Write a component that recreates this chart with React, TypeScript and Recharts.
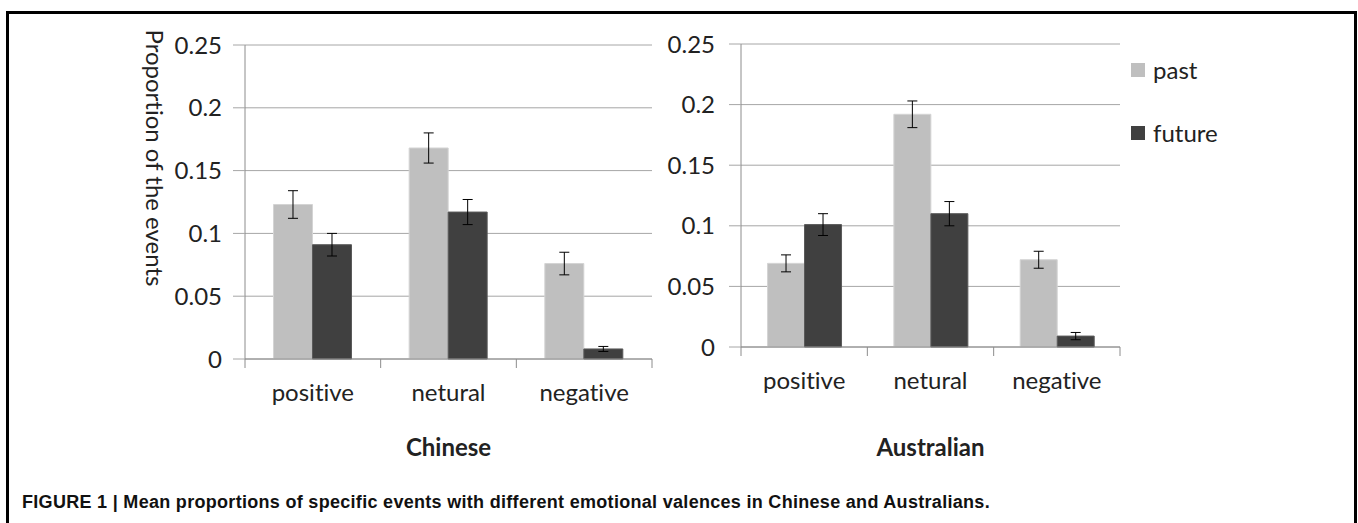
import React from "react"
import { Bar, BarChart, CartesianGrid, ErrorBar, Label, Legend, XAxis, YAxis } from "recharts"

const valences = ["positive", "netural", "negative"]
const seriesNames = ["past", "future"]

const chinesePast = [0.123, 0.168, 0.076]
const chinesePastErr = [0.011, 0.012, 0.009]
const chineseFuture = [0.091, 0.117, 0.008]
const chineseFutureErr = [0.009, 0.01, 0.002]

const australianPast = [0.069, 0.192, 0.072]
const australianPastErr = [0.007, 0.011, 0.007]
const australianFuture = [0.101, 0.11, 0.009]
const australianFutureErr = [0.009, 0.01, 0.003]

const yTicks = [0, 0.05, 0.1, 0.15, 0.2, 0.25]

const PAST = "#bfbfbf"
const FUTURE = "#404040"
const GRID = "#a6a6a6"
const AXIS = "#8c8c8c"
const TEXT = "#222222"
const FONT = "Lato, 'Open Sans', sans-serif"
const noLig = { fontVariantLigatures: "none" as const }

const rows = (past: number[], pastErr: number[], future: number[], futureErr: number[]) =>
  valences.map((name, i) => ({
    name,
    past: past[i],
    pastErr: pastErr[i],
    future: future[i],
    futureErr: futureErr[i],
  }))

const chineseData = rows(chinesePast, chinesePastErr, chineseFuture, chineseFutureErr)
const australianData = rows(australianPast, australianPastErr, australianFuture, australianFutureErr)

// category labels centred, tick marks on the category boundaries (Excel style)
function CategoryTick(props: any) {
  const { x, y, payload, index } = props
  const half = payload.offset ?? 0
  const last = index === valences.length - 1
  return (
    <g>
      <line x1={x - half} y1={y} x2={x - half} y2={y + 9} stroke={AXIS} />
      {last && <line x1={x + half} y1={y} x2={x + half} y2={y + 9} stroke={AXIS} />}
      <text x={x} y={y + 42} textAnchor="middle" fill={TEXT} fontSize={24} fontFamily={FONT} style={noLig}>
        {payload.value}
      </text>
    </g>
  )
}

function groupTitle(text: string, dy: number) {
  return (props: any) => {
    const vb = props.viewBox
    return (
      <text x={vb.x + vb.width / 2} y={vb.y + dy} textAnchor="middle" fill={TEXT} fontSize={24} fontWeight="bold" fontFamily={FONT}>
        {text}
      </text>
    )
  }
}

function YTitle(props: any) {
  const vb = props.viewBox
  const cx = vb.x - 12
  const cy = vb.y + 113
  return (
    <text
      x={cx}
      y={cy}
      dy="0.3em"
      transform={`rotate(90, ${cx}, ${cy})`}
      textAnchor="middle"
      fill={TEXT}
      fontSize={24}
      fontFamily={FONT}
      style={noLig}
    >
      Proportion of the events
    </text>
  )
}

function LegendBox({ payload }: any) {
  const items = [...(payload || [])].sort(
    (a: any, b: any) => seriesNames.indexOf(a.value) - seriesNames.indexOf(b.value)
  )
  return (
    <div style={{ fontFamily: FONT, fontSize: 24, color: TEXT }}>
      {items.map((p: any) => (
        <div key={p.value} style={{ display: "flex", alignItems: "center", height: 63 }}>
          <span style={{ display: "inline-block", width: 14, height: 14, background: p.color, marginRight: 8 }} />
          {p.value}
        </div>
      ))}
    </div>
  )
}

const yTick = { fill: TEXT, fontSize: 24, fontFamily: FONT }

export default function App() {
  return (
    <div style={{ position: "relative", width: 1358, height: 523, overflow: "hidden", background: "#fff" }}>
      <style>{"body{margin:0}"}</style>
      <div
        style={{
          position: "absolute",
          left: 6,
          top: 11,
          width: 1345,
          height: 600,
          border: "3px solid #000",
        }}
      />

      <div style={{ position: "absolute", left: 0, top: 0 }}>
        <BarChart
          width={680}
          height={523}
          data={chineseData}
          margin={{ top: 45, right: 28, bottom: 104, left: 165 }}
          barCategoryGap="21%"
          barGap={0}
        >
          <CartesianGrid vertical={false} stroke={GRID} />
          <XAxis
            dataKey="name"
            height={60}
            interval={0}
            tickSize={0}
            tickMargin={0}
            tickLine={false}
            axisLine={{ stroke: AXIS }}
            tick={<CategoryTick />}
          >
            <Label content={groupTitle("Chinese", 97)} />
          </XAxis>
          <YAxis
            domain={[0, 0.25]}
            ticks={yTicks}
            width={80}
            tickSize={12}
            tickMargin={11}
            axisLine={{ stroke: AXIS }}
            tickLine={{ stroke: GRID }}
            tick={yTick}
          >
            <Label content={<YTitle />} />
          </YAxis>
          <Bar dataKey="past" fill={PAST} stroke="#d4d4d4" isAnimationActive={false}>
            <ErrorBar dataKey="pastErr" width={5} stroke="#000" strokeWidth={1} />
          </Bar>
          <Bar dataKey="future" fill={FUTURE} stroke="#5a5a5a" isAnimationActive={false}>
            <ErrorBar dataKey="futureErr" width={5} stroke="#000" strokeWidth={1} />
          </Bar>
        </BarChart>
      </div>

      <div style={{ position: "absolute", left: 620, top: 0 }}>
        <BarChart
          width={738}
          height={523}
          data={australianData}
          margin={{ top: 44, right: 238, bottom: 116, left: 61 }}
          barCategoryGap="21%"
          barGap={0}
        >
          <CartesianGrid vertical={false} stroke={GRID} />
          <XAxis
            dataKey="name"
            height={60}
            interval={0}
            tickSize={0}
            tickMargin={0}
            tickLine={false}
            axisLine={{ stroke: AXIS }}
            tick={<CategoryTick />}
          >
            <Label content={groupTitle("Australian", 109)} />
          </XAxis>
          <YAxis
            domain={[0, 0.25]}
            ticks={yTicks}
            width={60}
            tickSize={12}
            tickMargin={14}
            axisLine={{ stroke: AXIS }}
            tickLine={{ stroke: GRID }}
            tick={yTick}
          />
          <Legend
            layout="horizontal"
            align="center"
            verticalAlign="middle"
            content={<LegendBox />}
            wrapperStyle={{ left: 511, top: 38, width: "auto" }}
          />
          <Bar dataKey="past" name="past" fill={PAST} stroke="#d4d4d4" isAnimationActive={false}>
            <ErrorBar dataKey="pastErr" width={5} stroke="#000" strokeWidth={1} />
          </Bar>
          <Bar dataKey="future" name="future" fill={FUTURE} stroke="#5a5a5a" isAnimationActive={false}>
            <ErrorBar dataKey="futureErr" width={5} stroke="#000" strokeWidth={1} />
          </Bar>
        </BarChart>
      </div>

      <div
        style={{
          position: "absolute",
          left: 22,
          top: 492,
          fontFamily: "'Liberation Sans', Arial, sans-serif",
          fontWeight: "bold",
          fontSize: 18,
          letterSpacing: 0.3,
          color: "#111",
          whiteSpace: "nowrap",
        }}
      >
        FIGURE 1 | Mean proportions of specific events with different emotional valences in Chinese and Australians.
      </div>
    </div>
  )
}
